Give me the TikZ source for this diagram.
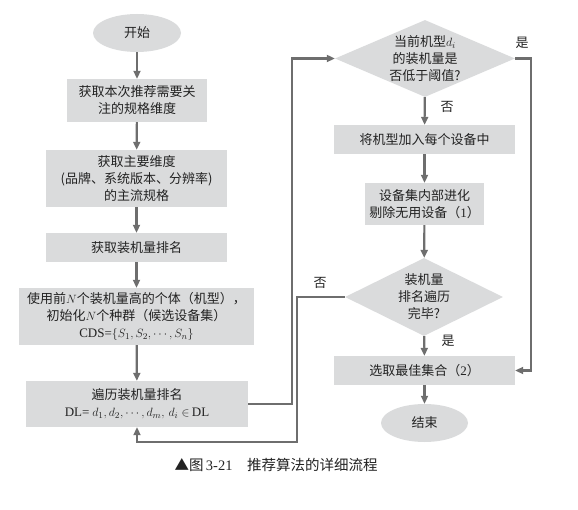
\documentclass[tikz,border=0pt]{standalone}
\usepackage{fontspec}
\setmainfont{Liberation Serif}
\newfontfamily\cjk{Noto Sans CJK SC}
\usetikzlibrary{arrows.meta, shapes.geometric}
\definecolor{boxgray}{HTML}{DADBDC}
\definecolor{linegray}{HTML}{6E6E6E}
\definecolor{textdark}{HTML}{222222}
\tikzset{
  box/.style={rectangle, fill=boxgray, align=center, inner sep=0pt},
  terminal/.style={ellipse, fill=boxgray, inner sep=0pt},
  decision/.style={diamond, fill=boxgray, align=center, inner sep=-2pt},
  flow/.style={-{Triangle[length=8pt, width=7pt]}, line width=2.2pt, color=linegray},
  tag/.style={font=\cjk\fontsize{13}{15}\selectfont, text=textdark},
  every node/.append style={font=\cjk\fontsize{13}{17}\selectfont, text=textdark}
}
\begin{document}
\begin{tikzpicture}[x=1pt, y=-1pt]
\useasboundingbox (0,0) rectangle (578,510);
% left column
\node[terminal, minimum width=88pt, minimum height=38pt] (start) at (137,33) {开始};
\node[box, minimum width=140pt, minimum height=43pt] (dim) at (137,100.5) {获取本次推荐需要关\\注的规格维度};
\node[box, minimum width=181pt, minimum height=57pt] (spec) at (136.5,178.5) {获取主要维度\\(品牌、系统版本、分辨率)\\的主流规格};
\node[box, minimum width=181pt, minimum height=29pt] (rank) at (136.5,247.5) {获取装机量排名};
\node[box, minimum width=235pt, minimum height=57pt] (init) at (136.5,316.5) {使用前$N$个装机量高的个体（机型），\\初始化$N$个种群（候选设备集）\\\textrm{CDS=}$\{S_1,S_2,\cdots,S_n\}$};
\node[box, minimum width=222pt, minimum height=46pt] (loop) at (137,404) {遍历装机量排名\\\textrm{DL=} $d_1,d_2,\cdots,d_m,\,d_i\in$\,\textrm{DL}};
% right column
\node[decision, aspect=2.34, minimum width=180pt, minimum height=77pt] (low) at (425,58.5) {当前机型$d_i$\\的装机量是\\否低于阈值?};
\node[box, minimum width=181pt, minimum height=29pt] (add) at (424.5,139.5) {将机型加入每个设备中};
\node[box, minimum width=119pt, minimum height=42pt] (evo) at (424.5,204) {设备集内部进化\\剔除无用设备（\textrm{1}）};
\node[decision, aspect=2.03, minimum width=158pt, minimum height=78pt, inner sep=0pt] (done) at (424,297) {装机量\\排名遍历\\完毕?};
\node[box, minimum width=181pt, minimum height=29pt] (best) at (424.5,370.5) {选取最佳集合（\textrm{2}）};
\node[terminal, minimum width=87pt, minimum height=38pt] (end) at (424.5,423) {结束};
% turning points
\coordinate (upR) at (292,58.5);
\coordinate (yesR) at (531,58.5);
\coordinate (backB) at (297,442);
% connectors
\draw[flow] (start) -- (dim);
\draw[flow] (dim) -- (spec);
\draw[flow] (spec) -- (rank);
\draw[flow] (rank) -- (init);
\draw[flow] (init) -- (loop);
\draw[flow] (loop.east) -| (upR) -- (low.west);
\draw[flow] (low) -- (add);
\draw[flow] (add) -- (evo);
\draw[flow] (evo) -- (done);
\draw[flow] (done) -- (best);
\draw[flow] (best) -- (end);
\draw[flow] (low.east) -- (yesR) |- (best.east);
\draw[flow] (done.west) -| (backB) -| (loop.south);
% branch labels
\node[tag] (yes1) at (522,43) {是};
\node[tag] (no1) at (447,107) {否};
\node[tag] (no2) at (320,283) {否};
\node[tag] (yes2) at (448,341) {是};
% caption
\node[font=\cjk\fontsize{14.5}{17}\selectfont] (cap) at (276,465) {▲图\,\textrm{3-21}\quad 推荐算法的详细流程};
\end{tikzpicture}
\end{document}
